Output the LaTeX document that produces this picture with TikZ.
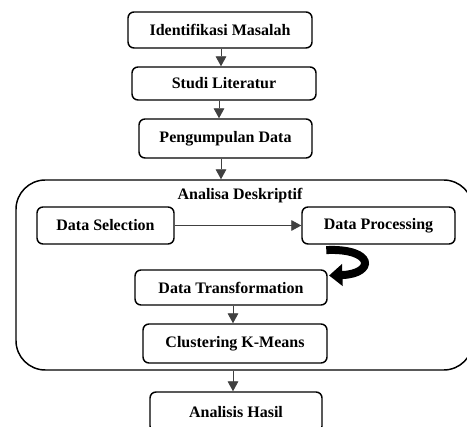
\documentclass[tikz,border=0pt]{standalone}
\usepackage{fontspec}
\setmainfont{Liberation Serif}
\usetikzlibrary{arrows.meta, positioning}

\begin{document}
\begin{tikzpicture}[
  x=0.75pt, y=-0.75pt,
  stepbox/.style={rectangle, rounded corners=4.5pt, draw=black, line width=1.1pt,
                  minimum width=#1, inner sep=2pt,
                  font=\fontsize{12}{14}\selectfont\bfseries},
  stepbox/.default=138pt,
  group/.style={rectangle, rounded corners=22pt, draw=black, line width=1.1pt,
                minimum width=342.75pt, minimum height=142.5pt},
  title/.style={font=\fontsize{12}{14}\selectfont\bfseries},
  conn/.style={draw=black!75, line width=0.7pt,
               -{Triangle[width=8pt, length=7.5pt]}},
  bigconn/.style={draw=black, line width=6pt,
                  -{Triangle[width=16pt, length=10pt]}}
]

\useasboundingbox (0,0) rectangle (467,427);

\def\colA{221}  % x of main column

% --- Outer block (drawn first) ---
\node[group] (desk) at (244.5,275) {};
\node[title] (judul) at (240,196) {Analisa Deskriptif};

% --- Main column ---
\node[stepbox=138pt, minimum height=27pt]     (iden)   at (220,30)    {Identifikasi Masalah};
\node[stepbox=138pt, minimum height=24.75pt]  (studi)  at (224,83.5)  {Studi Literatur};
\node[stepbox=129.75pt, minimum height=29.25pt] (kumpul) at (225.5,138.5) {Pengumpulan Data};

% --- Inside the block ---
\node[stepbox=102.75pt, minimum height=27.75pt] (sel)   at (105.5,225.5) {Data Selection};
\node[stepbox=114.75pt, minimum height=27.75pt] (proc)  at (378.5,225.5) {Data Processing};
\node[stepbox=144pt, minimum height=26.25pt]    (trans) at (231,287.5)   {Data Transformation};
\node[stepbox=138pt, minimum height=29.25pt]    (clust) at (235,343.5)   {Clustering K-Means};

% --- Last step ---
\node[stepbox=129pt, minimum height=30pt]       (hasil) at (236,412)     {Analisis Hasil};

% --- Connections ---
\draw[conn] (iden.south -| \colA,0) -- (studi.north -| \colA,0);
\draw[conn] (studi.south -| 219,0) -- (kumpul.north -| 219,0);
\draw[conn] (kumpul.south -| \colA,0) -- (desk.north -| \colA,0);
\draw[conn] (sel) -- (proc);
\draw[conn] (trans.south -| 233,0) -- (clust.north -| 233,0);
\draw[conn] (desk.south -| 233,0) -- (hasil.north -| 233,0);

% thick bent arrow proc -> trans
\draw[bigconn] ([xshift=18.75pt, yshift=-4pt]proc.south west)
  .. controls (375,248) and (375,274) .. ([xshift=1pt, yshift=9pt]trans.east);

\end{tikzpicture}
\end{document}
